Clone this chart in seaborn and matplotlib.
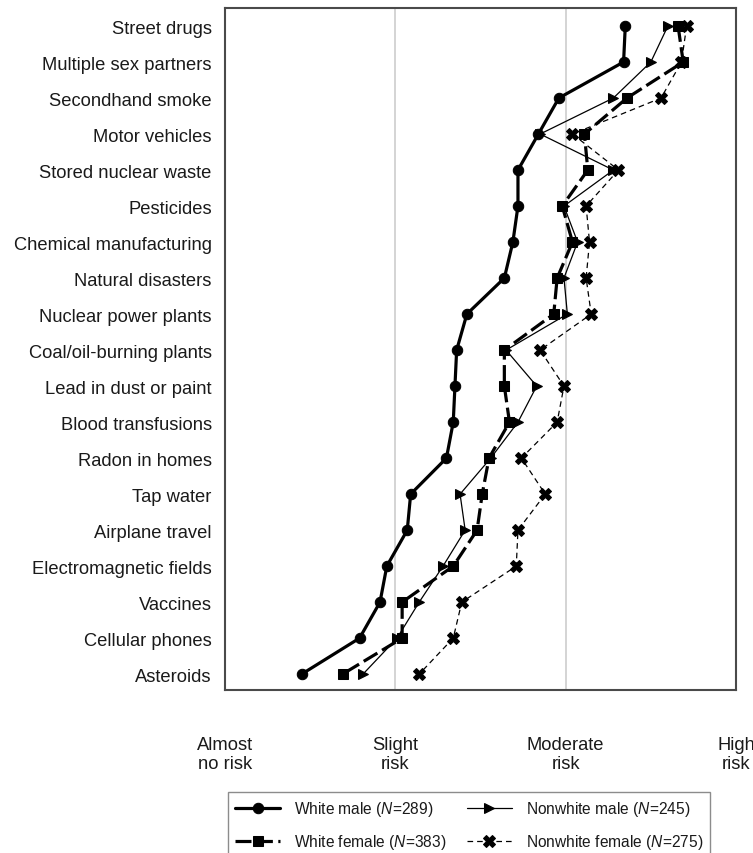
import numpy as np
import pandas as pd
import matplotlib
matplotlib.use("Agg")
import matplotlib.pyplot as plt
import seaborn as sns

# Risk categories, top to bottom
hazards = [
    "Street drugs", "Multiple sex partners", "Secondhand smoke", "Motor vehicles",
    "Stored nuclear waste", "Pesticides", "Chemical manufacturing", "Natural disasters",
    "Nuclear power plants", "Coal/oil-burning plants", "Lead in dust or paint",
    "Blood transfusions", "Radon in homes", "Tap water", "Airplane travel",
    "Electromagnetic fields", "Vaccines", "Cellular phones", "Asteroids",
]

# Mean perceived risk (1 = almost no risk ... 4 = high risk)
white_male = [3.35, 3.34, 2.96, 2.84, 2.72, 2.72, 2.69, 2.64, 2.42, 2.36,
              2.35, 2.34, 2.30, 2.09, 2.07, 1.95, 1.91, 1.79, 1.45]
white_female = [3.66, 3.69, 3.36, 3.11, 3.13, 2.98, 3.04, 2.95, 2.93, 2.64,
                2.64, 2.67, 2.55, 2.51, 2.48, 2.34, 2.04, 2.04, 1.69]
nonwhite_male = [3.60, 3.50, 3.28, 2.85, 3.28, 2.99, 3.07, 2.99, 3.01, 2.65,
                 2.83, 2.72, 2.56, 2.38, 2.41, 2.28, 2.14, 2.01, 1.81]
nonwhite_female = [3.71, 3.68, 3.56, 3.04, 3.31, 3.12, 3.14, 3.12, 3.15, 2.85,
                   2.99, 2.95, 2.74, 2.88, 2.72, 2.71, 2.39, 2.34, 2.14]

group_labels = [
    r"White male ($\mathit{N}$=289)",
    r"White female ($\mathit{N}$=383)",
    r"Nonwhite male ($\mathit{N}$=245)",
    r"Nonwhite female ($\mathit{N}$=275)",
]
scale_labels = ["Almost\nno risk", "Slight\nrisk", "Moderate\nrisk", "High\nrisk"]

sns.set_style("white")
plt.rcParams["font.family"] = ["Liberation Sans", "DejaVu Sans"]
plt.rcParams["mathtext.fontset"] = "custom"
plt.rcParams["mathtext.rm"] = "Liberation Sans"
plt.rcParams["mathtext.it"] = "Liberation Sans:italic"
plt.rcParams["text.color"] = "#1a1a1a"

fig = plt.figure(figsize=(7.53, 8.54), dpi=100)
ax = fig.add_axes([225 / 753, 1 - 691 / 854, 511 / 753, 682 / 854])

pos = np.arange(len(hazards))
series = [white_male, white_female, nonwhite_male, nonwhite_female]
styles = [
    dict(lw=2.3, linestyle="-", marker="o", ms=7.5),
    dict(lw=2.3, linestyle=(0, (5, 1.7)), marker="s", ms=7.0),
    dict(lw=0.9, linestyle="-", marker=">", ms=7.5),
    dict(lw=0.9, linestyle=(0, (4.5, 3.2)), marker="X", ms=8.0),
]

for vals, lab, st in zip(series, group_labels, styles):
    df = pd.DataFrame({"risk": vals, "pos": pos})
    sns.lineplot(data=df, x="risk", y="pos", orient="y", errorbar=None,
                 color="black", mec="black", mfc="black", label=lab,
                 legend=False, ax=ax, **st)

ax.set_xlim(1, 4)
ax.set_ylim(18.44, -0.5)
ax.set_xticks([1, 2, 3, 4])
ax.set_xticklabels(scale_labels, fontsize=13.2, linespacing=1.15)
ax.set_yticks(pos)
ax.set_yticklabels(hazards, fontsize=13.2)
ax.tick_params(axis="x", length=0, pad=33, colors="#1a1a1a")
ax.tick_params(axis="y", length=0, pad=9.5, colors="#1a1a1a")
ax.set_xlabel("")
ax.set_ylabel("")

ax.xaxis.grid(True, color="#cdcdcd", lw=1.2)
ax.yaxis.grid(False)
ax.set_axisbelow(True)
for sp in ax.spines.values():
    sp.set_visible(True)
    sp.set_color("#4a4a4a")
    sp.set_linewidth(1.5)

handles, labels = ax.get_legend_handles_labels()
leg = fig.legend(handles, labels, ncol=2, loc="upper left",
                 bbox_to_anchor=(228 / 753, 1 - 793 / 854),
                 bbox_transform=fig.transFigure, borderaxespad=0,
                 fontsize=11.2, frameon=True, fancybox=False,
                 handlelength=2.9, handletextpad=0.9, columnspacing=1.3,
                 labelspacing=0.9, borderpad=0.45)
leg.get_frame().set_edgecolor("#6f6f6f")
leg.get_frame().set_linewidth(1.0)

fig.savefig("out.png", dpi=100)
